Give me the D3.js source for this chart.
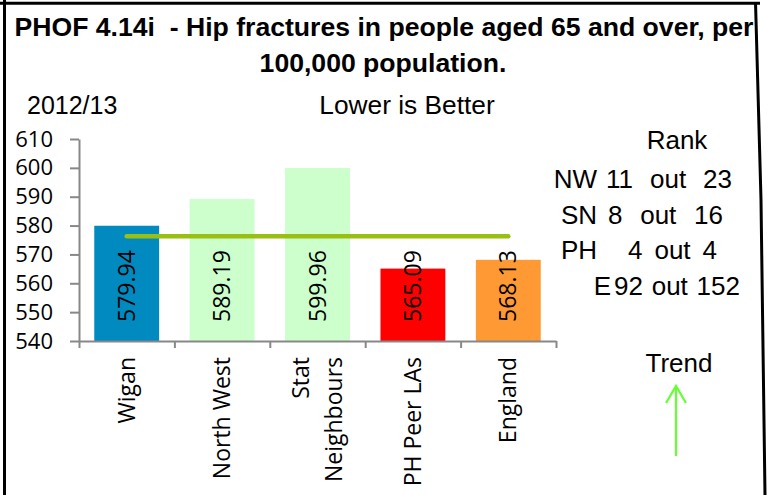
<!DOCTYPE html>
<html lang="en">
<head>
  <meta charset="UTF-8" />
  <title>PHOF 4.14i - Hip fractures</title>
  <script src="https://d3js.org/d3.v7.min.js"></script>
  <style>
    body { margin: 0; padding: 0; background: #fff; }
    svg { display: block; }
    .arial { font-family: "Liberation Sans", Arial, sans-serif; fill: #000; }
    .chart-text { font-family: "Open Sans", sans-serif; fill: #000; }
    .axis path, .axis line { stroke: #888; stroke-width: 2; }
  </style>
</head>
<body>
<div id="chart"></div>
<script>
  // ---------- data ----------
  const categories = ["Wigan", "North West", "Stat Neighbours", "PH Peer LAs", "England"];
  const categoryLines = [["Wigan"], ["North West"], ["Stat", "Neighbours"], ["PH Peer LAs"], ["England"]];
  const values = [579.94, 589.19, 599.96, 565.09, 568.13];
  const barColors = ["#008abf", "#ccffcc", "#ccffcc", "#ff0000", "#ff9933"];
  const refLineValue = 576.3;
  const yTicks = [540, 550, 560, 570, 580, 590, 600, 610];
  const rankLabels = ["NW", "SN", "PH", "E"];
  const rankValues = ["11 out 23", "8 out 16", "4 out 4", "92 out 152"];

  const width = 769, height = 495;
  const svg = d3.select("#chart").append("svg")
    .attr("width", width).attr("height", height);

  // ---------- frame ----------
  svg.append("line").attr("x1", 4.5).attr("x2", 4.5).attr("y1", 0).attr("y2", height)
    .attr("stroke", "#000").attr("stroke-width", 3);
  svg.append("line").attr("x1", 0).attr("x2", 760).attr("y1", 3.3).attr("y2", 3.3)
    .attr("stroke", "#000").attr("stroke-width", 3);
  svg.append("path")
    .attr("d", d3.line()([[755.5, 2], [761, 200], [765, 495]]))
    .attr("fill", "none").attr("stroke", "#000").attr("stroke-width", 3);

  // ---------- titles ----------
  const title = svg.append("text").attr("class", "arial")
    .attr("text-anchor", "middle").style("font-size", "26.6px").style("font-weight", "bold");
  title.append("tspan").attr("x", 384).attr("y", 35.5)
    .text("PHOF 4.14i\u00a0\u00a0- Hip fractures in people aged 65 and over, per");
  title.append("tspan").attr("x", 383).attr("y", 71.5).text("100,000 population.");

  svg.append("text").attr("class", "arial").attr("x", 27).attr("y", 114)
    .style("font-size", "25px").text("2012/13");
  svg.append("text").attr("class", "arial").attr("x", 407).attr("y", 114)
    .attr("text-anchor", "middle").style("font-size", "26.3px").text("Lower is Better");

  // ---------- scales ----------
  const plot = { left: 79, right: 556, top: 139, bottom: 341 };

  const x = d3.scaleBand()
    .domain(categories)
    .range([plot.left, plot.right])
    .paddingInner(0.32)
    .paddingOuter(0.16);

  const y = d3.scaleLinear()
    .domain([540, 610])
    .range([plot.bottom, plot.top]);

  // ---------- bars ----------
  svg.selectAll(".bar")
    .data(values)
    .enter()
    .append("rect")
    .attr("class", "bar")
    .attr("x", (d, i) => x(categories[i]))
    .attr("width", x.bandwidth())
    .attr("y", d => y(d))
    .attr("height", d => y(540) - y(d))
    .attr("fill", (d, i) => barColors[i]);

  // value labels, rotated, starting near the base
  svg.selectAll(".val")
    .data(values)
    .enter()
    .append("text")
    .attr("class", "val chart-text")
    .attr("transform", (d, i) => `translate(${x(categories[i]) + x.bandwidth() / 2},${plot.bottom - 19}) rotate(-90)`)
    .attr("dy", "0.35em")
    .style("font-size", "23px")
    .text(d => d.toFixed(2));

  // reference line
  const bandCenter = c => x(c) + x.bandwidth() / 2;
  svg.append("line")
    .attr("x1", bandCenter(categories[0]))
    .attr("x2", bandCenter(categories[categories.length - 1]))
    .attr("y1", y(refLineValue))
    .attr("y2", y(refLineValue))
    .attr("stroke", "#99c010")
    .attr("stroke-width", 4.5)
    .attr("stroke-linecap", "round");

  // ---------- axes ----------
  svg.append("g")
    .attr("class", "axis chart-text")
    .attr("transform", `translate(${plot.left},0)`)
    .call(d3.axisLeft(y).tickValues(yTicks).tickSize(9).tickSizeOuter(0).tickPadding(17))
    .call(g => g.selectAll("text").style("font-size", "22px").attr("fill", "#000")
      .style("font-family", "'Open Sans', sans-serif"));

  const xIdx = d3.scaleLinear().domain([0, categories.length]).range([plot.left, plot.right]);
  svg.append("g")
    .attr("class", "axis")
    .attr("transform", `translate(0,${plot.bottom})`)
    .call(d3.axisBottom(xIdx).tickValues(d3.range(categories.length + 1))
      .tickFormat("").tickSize(7).tickSizeOuter(0));

  // category labels
  const lineH = 33;
  const catText = svg.selectAll(".cat")
    .data(categoryLines)
    .enter()
    .append("text")
    .attr("class", "cat chart-text")
    .attr("text-anchor", "end")
    .style("font-size", "23px")
    .attr("transform", (d, i) => `translate(${bandCenter(categories[i])},357) rotate(-90)`);
  catText.selectAll("tspan")
    .data(d => d.map((t, j) => ({ t, j, n: d.length })))
    .enter()
    .append("tspan")
    .attr("x", 0)
    .attr("y", d => (d.j - (d.n - 1) / 2) * lineH)
    .attr("dy", "0.35em")
    .text(d => d.t);

  // ---------- rank panel ----------
  svg.append("text").attr("class", "arial").attr("x", 677).attr("y", 149)
    .attr("text-anchor", "middle").style("font-size", "26px").text("Rank");

  const rowY0 = 188, rowStep = 35.5;
  const labelEnd = [597, 597, 597, 611];
  const valueStart = [606, 608, 628, 614];
  const valueWidth = [126, 115, 89, 126];
  rankLabels.forEach((lab, i) => {
    svg.append("text").attr("class", "arial")
      .attr("x", labelEnd[i]).attr("y", rowY0 + i * rowStep)
      .attr("text-anchor", "end").style("font-size", "26px").text(lab);
    const t = svg.append("text").attr("class", "arial")
      .attr("x", valueStart[i]).attr("y", rowY0 + i * rowStep)
      .style("font-size", "26px").text(rankValues[i]);
    // widen the gaps between words, the way the original text box spaced them
    const natural = t.node().getComputedTextLength();
    const gaps = rankValues[i].split(" ").length - 1;
    t.style("word-spacing", Math.max(0, (valueWidth[i] - natural) / gaps) + "px");
  });

  // ---------- trend ----------
  svg.append("text").attr("class", "arial").attr("x", 679).attr("y", 371.5)
    .attr("text-anchor", "middle").style("font-size", "26px").text("Trend");
  svg.append("path")
    .attr("d", "M676,456 L676,386 M666,403 L676,386 L686,403")
    .attr("fill", "none").attr("stroke", "#66ff33").attr("stroke-width", 2.2);
</script>
</body>
</html>
